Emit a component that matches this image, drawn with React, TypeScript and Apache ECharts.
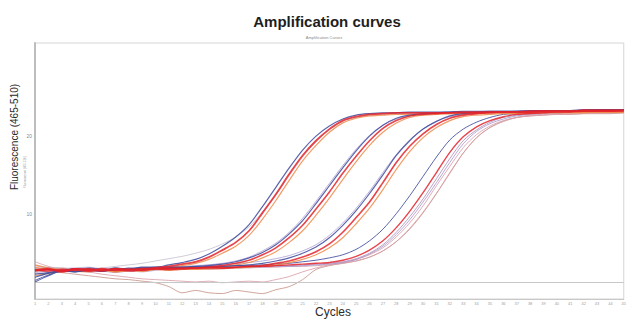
import React, { useEffect, useRef } from "react";
import * as echarts from "echarts";

// ---- data ----
const cycles = [1,2,3,4,5,6,7,8,9,10,11,12,13,14,15,16,17,18,19,20,21,22,23,24,25,26,27,28,29,30,31,32,33,34,35,36,37,38,39,40,41,42,43,44,45];

const g1Red = [2.7,2.9,2.5,2.8,2.6,2.9,2.7,2.8,2.9,3.0,3.2,3.5,3.8,4.4,5.3,6.3,7.8,10.1,12.5,15.1,17.5,19.4,20.9,22.0,22.5,22.8,22.9,23.0,23.0,23.0,23.0,23.0,23.1,23.1,23.1,23.1,23.1,23.2,23.2,23.2,23.2,23.3,23.3,23.3,23.3];
const g1Blue = [2.2,2.4,2.7,2.5,2.9,2.6,3.0,2.8,3.1,3.1,3.4,3.7,4.1,4.8,5.8,7.0,8.6,10.9,13.4,15.9,18.2,20.0,21.3,22.2,22.7,22.9,23.0,23.0,23.1,23.1,23.1,23.1,23.2,23.2,23.2,23.2,23.2,23.3,23.3,23.3,23.3,23.4,23.4,23.4,23.4];
const g1Orange = [3.1,2.8,2.9,2.6,2.5,2.8,2.5,2.7,2.7,2.9,3.0,3.3,3.6,4.1,4.9,5.8,7.2,9.3,11.7,14.3,16.8,18.8,20.5,21.7,22.3,22.6,22.7,22.8,22.8,22.9,22.9,22.9,22.9,23.0,23.0,23.0,23.0,23.0,23.1,23.1,23.1,23.1,23.1,23.1,23.1];
const g1Gray = [2.9,3.1,3.0,2.8,2.9,3.0,3.2,3.4,3.6,3.9,4.2,4.5,4.9,5.4,6.1,7.0,8.3,10.2,12.4,14.9,17.3,19.3,20.8,21.9,22.4,22.7,22.8,22.9,22.9,23.0,23.0,23.0,23.0,23.1,23.1,23.1,23.1,23.1,23.2,23.2,23.2,23.2,23.2,23.2,23.2];

const g2Red = [2.6,2.8,2.6,2.9,2.7,2.6,2.9,2.8,2.7,2.9,2.9,3.0,3.0,3.1,3.3,3.6,4.0,4.7,5.6,6.9,8.5,10.6,12.8,15.2,17.4,19.4,21.0,22.0,22.6,22.8,22.9,23.0,23.0,23.0,23.1,23.1,23.1,23.1,23.2,23.2,23.2,23.3,23.3,23.3,23.3];
const g2Blue = [1.2,2.0,2.6,2.5,2.7,2.6,2.8,2.9,3.0,3.0,3.1,3.1,3.2,3.3,3.5,3.8,4.3,5.0,6.0,7.4,9.1,11.3,13.6,15.9,18.1,20.0,21.4,22.3,22.7,22.9,23.0,23.1,23.1,23.1,23.2,23.2,23.2,23.2,23.3,23.3,23.3,23.3,23.4,23.4,23.4];
const g2Orange = [2.0,2.3,2.6,2.8,2.9,2.7,2.6,2.7,2.6,2.8,2.8,2.9,2.9,3.0,3.1,3.4,3.7,4.3,5.1,6.3,7.8,9.8,12.0,14.4,16.7,18.8,20.5,21.7,22.4,22.7,22.8,22.9,22.9,22.9,23.0,23.0,23.0,23.0,23.1,23.1,23.1,23.1,23.1,23.1,23.1];
const g2Lavender = [3.3,3.0,2.9,2.7,2.5,2.6,2.4,2.6,2.5,2.7,2.9,3.1,3.2,3.4,3.6,3.9,4.4,5.2,6.2,7.6,9.4,11.6,13.9,16.2,18.3,20.1,21.4,22.2,22.6,22.8,22.9,22.9,23.0,23.0,23.0,23.0,23.1,23.1,23.1,23.1,23.1,23.2,23.2,23.2,23.2];

const g3Red = [2.8,2.6,2.8,2.7,2.9,2.7,2.8,2.6,2.8,2.9,2.8,2.9,3.0,3.0,3.0,3.1,3.2,3.3,3.6,3.9,4.4,5.1,6.1,7.6,9.5,11.5,14.0,16.6,18.7,20.3,21.5,22.3,22.7,22.9,23.0,23.1,23.1,23.1,23.2,23.2,23.2,23.3,23.3,23.3,23.3];
const g3Blue = [1.8,2.3,2.6,2.9,2.8,2.6,2.9,2.7,2.9,2.9,3.0,3.0,3.1,3.1,3.2,3.3,3.4,3.6,3.9,4.3,4.9,5.7,6.9,8.5,10.4,12.6,15.0,17.5,19.4,20.9,21.9,22.6,22.9,23.0,23.1,23.1,23.2,23.2,23.2,23.2,23.3,23.3,23.3,23.4,23.4];
const g3Orange = [3.4,3.0,2.7,2.6,2.6,2.8,2.5,2.7,2.6,2.8,2.7,2.8,2.8,2.9,2.9,3.0,3.1,3.2,3.4,3.7,4.1,4.7,5.6,6.9,8.7,10.7,13.1,15.7,18.0,19.8,21.1,22.0,22.5,22.7,22.8,22.9,22.9,22.9,23.0,23.0,23.0,23.0,23.1,23.1,23.1];
const g3Lavender = [2.4,2.6,2.9,3.0,3.1,2.9,3.0,2.9,3.0,3.1,3.2,3.2,3.3,3.4,3.5,3.6,3.7,3.9,4.2,4.6,5.2,6.0,7.2,8.8,10.7,12.9,15.3,17.6,19.5,20.9,21.9,22.5,22.8,22.9,23.0,23.0,23.1,23.1,23.1,23.1,23.2,23.2,23.2,23.2,23.3];

const g4Red = [2.7,2.8,2.6,2.9,2.8,2.7,2.9,2.8,2.7,2.9,3.0,2.9,3.0,3.1,3.0,3.1,3.2,3.2,3.3,3.4,3.5,3.6,3.7,4.0,4.5,5.3,6.5,8.2,10.3,12.7,15.3,17.9,19.9,21.2,22.0,22.5,22.8,22.9,23.0,23.1,23.1,23.2,23.2,23.2,23.3];
const g4Blue = [1.4,2.1,2.7,2.6,3.0,2.8,2.7,3.0,2.9,3.1,3.0,3.1,3.1,3.2,3.2,3.3,3.3,3.4,3.5,3.6,3.8,4.0,4.3,4.7,5.4,6.5,8.0,10.0,12.3,14.8,17.3,19.5,20.9,21.8,22.4,22.8,22.9,23.0,23.1,23.1,23.2,23.2,23.3,23.3,23.3];
const g4Lavender = [2.9,2.8,2.7,2.7,2.6,2.7,2.8,2.7,2.8,2.8,2.9,2.8,2.9,3.0,3.0,3.0,3.1,3.1,3.2,3.2,3.3,3.4,3.5,3.7,4.1,4.8,5.8,7.3,9.2,11.5,14.0,16.6,19.0,20.6,21.6,22.2,22.6,22.8,22.9,23.0,23.0,23.1,23.1,23.1,23.2];
const g4Rose = [3.8,3.2,2.8,2.9,2.6,2.8,2.5,2.7,2.6,2.8,2.7,2.8,2.9,2.8,2.9,3.0,3.0,3.1,3.1,3.2,3.2,3.3,3.4,3.6,3.9,4.4,5.2,6.4,8.1,10.2,12.6,15.3,17.8,19.8,21.1,21.9,22.4,22.7,22.8,22.9,23.0,23.0,23.0,23.1,23.1];
const g4Mauve = [2.8,3.0,2.7,2.8,2.8,2.7,2.6,2.8,2.9,2.9,2.8,3.0,2.9,3.0,3.1,3.1,3.1,3.2,3.3,3.3,3.4,3.5,3.6,3.8,4.2,4.9,6.0,7.6,9.6,11.9,14.5,17.1,19.4,20.8,21.8,22.4,22.7,22.9,23.0,23.0,23.1,23.1,23.2,23.2,23.2];

const outlierDeep = [2.6,2.5,2.4,2.2,2.0,1.8,1.6,1.5,1.3,1.1,0.6,-0.2,0.1,-0.2,-0.3,0.1,-0.1,-0.3,0.2,0.6,1.5,2.8,3.3,3.6,3.9,4.4,5.2,6.4,8.0,10.1,12.6,15.2,17.8,19.8,21.1,21.9,22.4,22.6,22.7,22.8,22.8,22.9,22.9,22.9,23.0];
const outlierShallow = [2.8,2.9,3.0,2.8,2.5,2.2,2.0,1.8,1.6,1.5,1.4,1.3,1.2,1.3,1.1,1.2,1.3,1.2,1.5,1.9,2.5,3.0,3.4,3.7,4.1,4.7,5.6,7.0,8.8,11.0,13.6,16.1,18.5,20.2,21.3,22.0,22.4,22.6,22.7,22.8,22.8,22.9,22.9,22.9,23.0];

const threshold = 1.17;
const yTickLabels = [10, 20];

const RED = "#e3232c";
const BLUE = "#3d4a9e";
const ORANGE = "#f08a4a";
const LAVENDER = "#a99bd0";
const ROSE = "#d9a0aa";
const MAUVE = "#b48fb8";
const BROWN = "#c9958a";
const GRAY = "#b9b3c4";

const lines = [
  { name: "o1", values: outlierDeep, color: BROWN, width: 1 },
  { name: "o2", values: outlierShallow, color: ROSE, width: 1 },
  { name: "g1g", values: g1Gray, color: GRAY, width: 0.8 },
  { name: "g2l", values: g2Lavender, color: LAVENDER, width: 0.9 },
  { name: "g3l", values: g3Lavender, color: LAVENDER, width: 0.9 },
  { name: "g4r", values: g4Rose, color: ROSE, width: 1 },
  { name: "g4l", values: g4Lavender, color: LAVENDER, width: 1 },
  { name: "g4m", values: g4Mauve, color: MAUVE, width: 1 },
  { name: "g4b", values: g4Blue, color: BLUE, width: 1 },
  { name: "g3o", values: g3Orange, color: ORANGE, width: 1.2 },
  { name: "g2o", values: g2Orange, color: ORANGE, width: 1.2 },
  { name: "g1o", values: g1Orange, color: ORANGE, width: 1.2 },
  { name: "g3b", values: g3Blue, color: BLUE, width: 1.2 },
  { name: "g2b", values: g2Blue, color: BLUE, width: 1.2 },
  { name: "g1b", values: g1Blue, color: BLUE, width: 1.2 },
  { name: "g4red", values: g4Red, color: RED, width: 1.4 },
  { name: "g3red", values: g3Red, color: RED, width: 1.6 },
  { name: "g2red", values: g2Red, color: RED, width: 1.6 },
  { name: "g1red", values: g1Red, color: RED, width: 1.8 },
];

const FONT = '"Liberation Sans", Arial, Helvetica, sans-serif';

export default function App() {
  const ref = useRef<HTMLDivElement>(null);
  useEffect(() => {
    if (!ref.current) return;
    const chart = echarts.init(ref.current, undefined, { renderer: "svg" });
    const series: any[] = lines.map((l, idx) => ({
      name: l.name,
      type: "line",
      showSymbol: false,
      symbol: "none",
      smooth: 0.3,
      data: cycles.map((c, i) => [c, l.values[i]]),
      lineStyle: { color: l.color, width: l.width, opacity: 0.85 },
      silent: true,
      z: 2 + idx,
      markLine:
        idx === 0
          ? {
              silent: true,
              symbol: "none",
              label: { show: false },
              lineStyle: { color: "#c8c8c8", width: 1, type: "solid" },
              data: [{ yAxis: threshold }],
            }
          : undefined,
    }));
    chart.setOption({
      animation: false,
      backgroundColor: "#ffffff",
      grid: {
        left: 35,
        right: 2,
        top: 43,
        bottom: 21,
        show: true,
        borderColor: "#d4d4d4",
        borderWidth: 1,
      },
      xAxis: {
        type: "value",
        min: 1,
        max: 45,
        interval: 1,
        axisLine: { show: true, onZero: false, lineStyle: { color: "#c8c8c8", width: 1 } },
        axisTick: { show: false },
        splitLine: { show: false },
        axisLabel: { fontSize: 4, color: "#a0a0a0", margin: 2, fontFamily: FONT },
      },
      yAxis: {
        type: "value",
        min: -1,
        max: 32,
        interval: 1,
        axisLine: { show: true, onZero: false, lineStyle: { color: "#bdbdbd", width: 2 } },
        axisTick: { show: false },
        splitLine: { show: false },
        axisLabel: {
          fontSize: 5,
          color: "#8a8a8a",
          margin: 3,
          fontFamily: FONT,
          formatter: (v: number) => (yTickLabels.indexOf(Math.round(v)) >= 0 && Math.abs(v - Math.round(v)) < 1e-6 ? String(Math.round(v)) : ""),
        },
      },
      graphic: [
        {
          type: "text",
          x: 327,
          y: 14,
          style: {
            text: "Amplification curves",
            font: `bold 15px ${FONT}`,
            fill: "#1e1e1e",
            align: "center",
            verticalAlign: "top",
          },
        },
        {
          type: "text",
          x: 324,
          y: 37,
          style: {
            text: "Amplification Curves",
            font: `4px ${FONT}`,
            fill: "#8a8a8a",
            align: "center",
            verticalAlign: "middle",
          },
        },
        {
          type: "text",
          x: 14,
          y: 137,
          rotation: Math.PI / 2,
          style: {
            text: "Fluorescence (465-510)",
            font: `10px ${FONT}`,
            fill: "#2a2a2a",
            align: "center",
            verticalAlign: "middle",
          },
        },
        {
          type: "text",
          x: 25,
          y: 172,
          rotation: Math.PI / 2,
          style: {
            text: "Fluorescence (465-510)",
            font: `3px ${FONT}`,
            fill: "#9a9a9a",
            align: "center",
            verticalAlign: "middle",
          },
        },
        {
          type: "text",
          x: 333,
          y: 306,
          style: {
            text: "Cycles",
            font: `12px ${FONT}`,
            fill: "#2a2a2a",
            align: "center",
            verticalAlign: "top",
          },
        },
      ],
      series,
    });
    return () => chart.dispose();
  }, []);
  return (
    <div
      ref={ref}
      style={{ position: "fixed", left: 0, top: 0, width: 629, height: 320, background: "#fff" }}
    />
  );
}
